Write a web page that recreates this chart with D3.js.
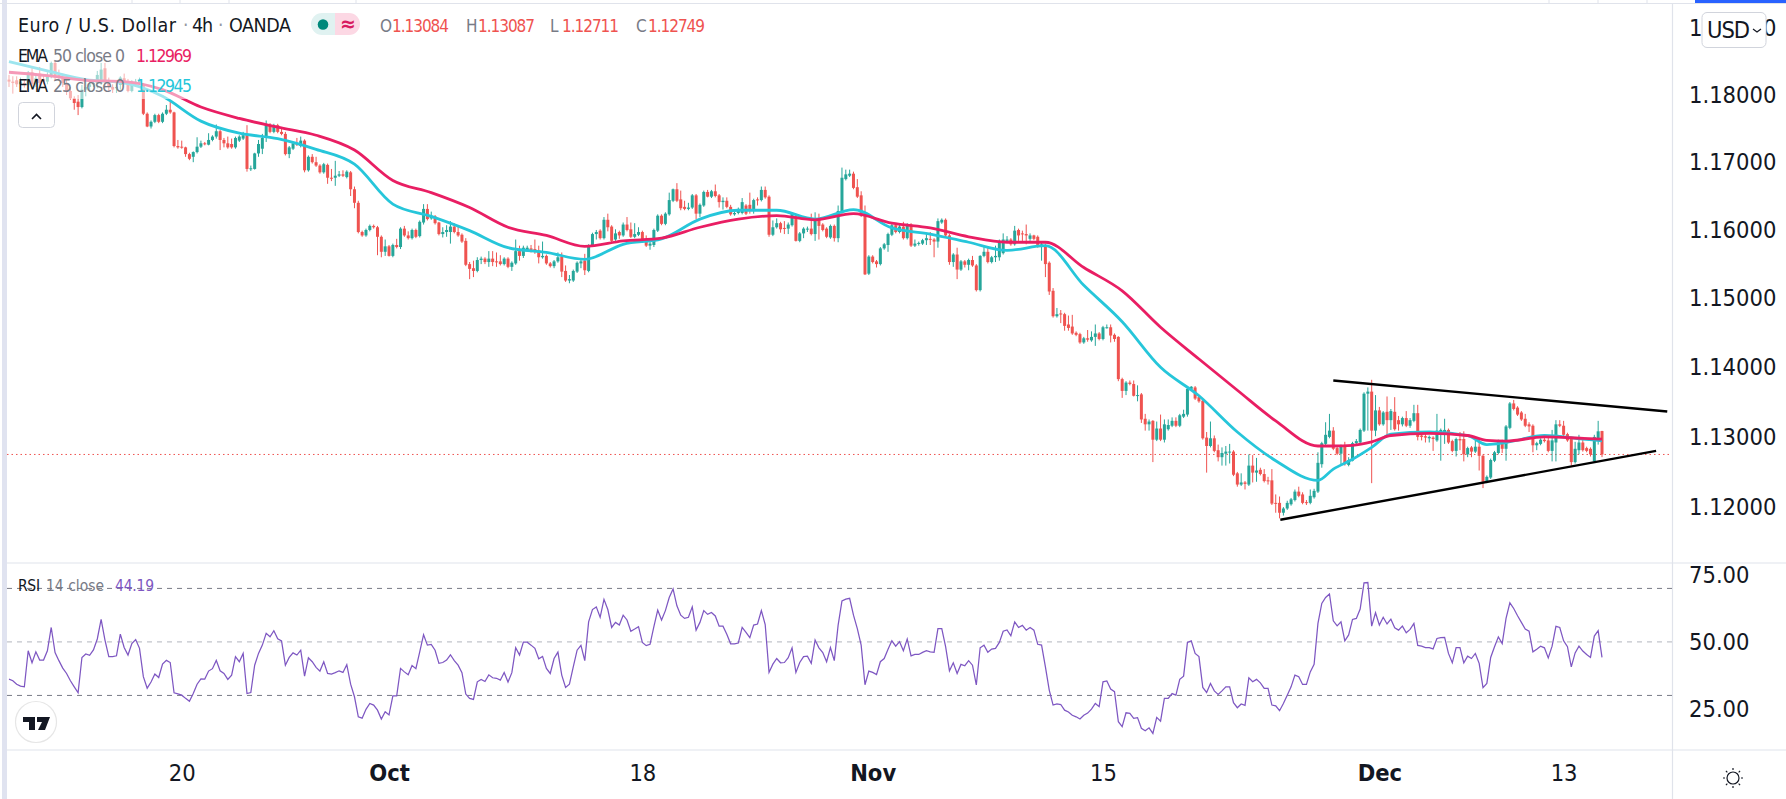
<!DOCTYPE html>
<html><head><meta charset="utf-8">
<script src="https://cdn.jsdelivr.net/npm/d3@7/dist/d3.min.js"></script>
<style>
html,body{margin:0;padding:0;background:#fff;overflow:hidden}
svg{display:block}
text{font-family:"DejaVu Sans Condensed","DejaVu Sans",sans-serif;font-stretch:condensed}
.tick text{fill:#131722}
</style></head><body><svg id="c" width="1786" height="799"></svg>
<script>
const opens=[
1.1823,1.1820,1.1822,1.1816,1.1818,1.1815,1.1834,1.1816,1.1832,1.1824,
1.1820,1.1828,1.1848,1.1830,1.1826,1.1818,1.1806,1.1795,1.1790,1.1782,
1.1808,1.1812,1.1816,1.1818,1.1820,1.1840,1.1822,1.1812,1.1810,1.1815,
1.1825,1.1820,1.1806,1.1820,1.1818,1.1816,1.1772,1.1753,1.1760,1.1770,
1.1760,1.1772,1.1778,1.1774,1.1724,1.1723,1.1722,1.1712,1.1708,1.1715,
1.1723,1.1728,1.1726,1.1733,1.1738,1.1746,1.1733,1.1728,1.1727,1.1722,
1.1732,1.1735,1.1740,1.1690,1.1690,1.1713,1.1720,1.1736,1.1755,1.1745,
1.1755,1.1745,1.1742,1.1712,1.1720,1.1728,1.1724,1.1732,1.1688,1.1708,
1.1700,1.1695,1.1685,1.1696,1.1677,1.1677,1.1680,1.1682,1.1678,1.1685,
1.1660,1.1640,1.1597,1.1592,1.1600,1.1606,1.1604,1.1590,1.1568,1.1576,
1.1562,1.1578,1.1575,1.1602,1.1592,1.1588,1.1600,1.1591,1.1611,1.1631,
1.1617,1.1620,1.1611,1.1594,1.1597,1.1597,1.1605,1.1597,1.1593,1.1584,
1.1550,1.1544,1.1540,1.1556,1.1558,1.1553,1.1558,1.1554,1.1554,1.1550,
1.1558,1.1546,1.1551,1.1569,1.1562,1.1570,1.1573,1.1572,1.1570,1.1560,
1.1562,1.1551,1.1547,1.1554,1.1561,1.1540,1.1526,1.1526,1.1539,1.1551,
1.1555,1.1540,1.1577,1.1594,1.1599,1.1588,1.1615,1.1605,1.1586,1.1597,
1.1592,1.1608,1.1601,1.1590,1.1593,1.1597,1.1586,1.1577,1.1578,1.1599,
1.1621,1.1609,1.1623,1.1643,1.1660,1.1645,1.1634,1.1631,1.1633,1.1651,
1.1624,1.1636,1.1656,1.1649,1.1657,1.1651,1.1641,1.1643,1.1634,1.1623,
1.1625,1.1625,1.1636,1.1637,1.1629,1.1645,1.1644,1.1659,1.1649,1.1593,
1.1604,1.1610,1.1603,1.1602,1.1607,1.1620,1.1584,1.1595,1.1602,1.1602,
1.1594,1.1616,1.1608,1.1602,1.1589,1.1606,1.1588,1.1626,1.1675,1.1680,
1.1683,1.1663,1.1651,1.1624,1.1536,1.1561,1.1554,1.1550,1.1573,1.1578,
1.1593,1.1607,1.1597,1.1605,1.1588,1.1608,1.1577,1.1580,1.1580,1.1585,
1.1587,1.1586,1.1583,1.1611,1.1615,1.1592,1.1553,1.1564,1.1542,1.1554,
1.1549,1.1556,1.1548,1.1512,1.1562,1.1568,1.1553,1.1560,1.1560,1.1566,
1.1584,1.1586,1.1579,1.1600,1.1595,1.1594,1.1587,1.1592,1.1590,1.1577,
1.1577,1.1552,1.1511,1.1474,1.1478,1.1477,1.1462,1.1459,1.1450,1.1448,
1.1436,1.1442,1.1439,1.1444,1.1449,1.1441,1.1458,1.1458,1.1447,1.1444,
1.1383,1.1366,1.1378,1.1376,1.1359,1.1361,1.1326,1.1318,1.1323,1.1296,
1.1312,1.1296,1.1311,1.1316,1.1323,1.1316,1.1329,1.1332,1.1369,1.1371,
1.1357,1.1352,1.1299,1.1287,1.1298,1.1281,1.1271,1.1276,1.1279,1.1279,
1.1248,1.1232,1.1235,1.1232,1.1259,1.1249,1.1253,1.1247,1.1238,1.1238,
1.1206,1.1206,1.1192,1.1198,1.1204,1.1210,1.1222,1.1218,1.1207,1.1206,
1.1214,1.1222,1.1261,1.1290,1.1300,1.1309,1.1284,1.1276,1.1288,1.1260,
1.1266,1.1291,1.1292,1.1309,1.1362,1.1365,1.1309,1.1338,1.1318,1.1336,
1.1324,1.1336,1.1324,1.1318,1.1327,1.1316,1.1323,1.1334,1.1302,1.1301,
1.1298,1.1299,1.1295,1.1307,1.1307,1.1310,1.1294,1.1280,1.1297,1.1297,
1.1275,1.1285,1.1279,1.1286,1.1273,1.1236,1.1242,1.1266,1.1277,1.1294,
1.1283,1.1313,1.1348,1.1342,1.1335,1.1326,1.1318,1.1316,1.1288,1.1290,
1.1296,1.1295,1.1280,1.1292,1.1318,1.1316,1.1304,1.1297,1.1264,1.1281,1.1292,1.1284,1.1283,1.1265,1.1297,1.13084];
const closes=[
1.1820,1.1818,1.1816,1.1820,1.1815,1.1834,1.1816,1.1825,1.1818,1.1820,
1.1828,1.1848,1.1827,1.1826,1.1818,1.1806,1.1795,1.1788,1.1782,1.1808,
1.1812,1.1816,1.1818,1.1830,1.1838,1.1820,1.1812,1.1808,1.1812,1.1826,
1.1820,1.1806,1.1820,1.1820,1.1822,1.1772,1.1753,1.1760,1.1770,1.1760,
1.1772,1.1778,1.1774,1.1724,1.1722,1.1722,1.1712,1.1705,1.1715,1.1723,
1.1728,1.1727,1.1733,1.1738,1.1746,1.1733,1.1728,1.1722,1.1722,1.1736,
1.1738,1.1740,1.1690,1.1691,1.1713,1.1727,1.1736,1.1755,1.1745,1.1755,
1.1745,1.1742,1.1712,1.1722,1.1728,1.1726,1.1732,1.1688,1.1708,1.1700,
1.1695,1.1685,1.1697,1.1677,1.1676,1.1680,1.1682,1.1680,1.1686,1.1660,
1.1640,1.1597,1.1592,1.1600,1.1606,1.1604,1.1590,1.1568,1.1576,1.1562,
1.1578,1.1575,1.1602,1.1592,1.1588,1.1600,1.1590,1.1612,1.1631,1.1616,
1.1621,1.1610,1.1594,1.1597,1.1600,1.1605,1.1597,1.1592,1.1583,1.1549,
1.1543,1.1540,1.1556,1.1558,1.1553,1.1558,1.1553,1.1553,1.1550,1.1558,
1.1546,1.1552,1.1569,1.1562,1.1574,1.1574,1.1569,1.1568,1.1560,1.1562,
1.1551,1.1547,1.1554,1.1560,1.1539,1.1526,1.1528,1.1540,1.1552,1.1554,
1.1541,1.1577,1.1594,1.1597,1.1588,1.1615,1.1604,1.1584,1.1595,1.1592,
1.1608,1.1600,1.1590,1.1594,1.1597,1.1583,1.1577,1.1580,1.1600,1.1621,
1.1609,1.1624,1.1644,1.1660,1.1643,1.1632,1.1631,1.1633,1.1651,1.1624,
1.1637,1.1656,1.1649,1.1657,1.1650,1.1641,1.1643,1.1634,1.1623,1.1625,
1.1631,1.1641,1.1624,1.1628,1.1644,1.1644,1.1659,1.1648,1.1593,1.1604,
1.1610,1.1601,1.1602,1.1608,1.1624,1.1584,1.1595,1.1602,1.1602,1.1594,
1.1616,1.1606,1.1600,1.1590,1.1606,1.1588,1.1628,1.1677,1.1682,1.1683,
1.1662,1.1649,1.1621,1.1535,1.1561,1.1553,1.1550,1.1573,1.1579,1.1594,
1.1607,1.1597,1.1605,1.1588,1.1608,1.1577,1.1580,1.1581,1.1585,1.1588,
1.1586,1.1583,1.1613,1.1615,1.1592,1.1553,1.1564,1.1542,1.1554,1.1549,
1.1556,1.1548,1.1512,1.1562,1.1568,1.1553,1.1560,1.1562,1.1584,1.1586,
1.1586,1.1579,1.1599,1.1592,1.1594,1.1592,1.1592,1.1587,1.1576,1.1579,
1.1550,1.1510,1.1474,1.1477,1.1477,1.1460,1.1457,1.1449,1.1447,1.1436,
1.1442,1.1440,1.1444,1.1449,1.1441,1.1458,1.1458,1.1446,1.1441,1.1383,
1.1366,1.1378,1.1376,1.1359,1.1360,1.1325,1.1318,1.1322,1.1296,1.1312,
1.1296,1.1318,1.1317,1.1323,1.1316,1.1331,1.1333,1.1369,1.1372,1.1355,
1.1351,1.1298,1.1287,1.1298,1.1280,1.1271,1.1277,1.1279,1.1279,1.1246,
1.1232,1.1235,1.1233,1.1259,1.1249,1.1252,1.1247,1.1237,1.1237,1.1205,
1.1205,1.1192,1.1198,1.1206,1.1211,1.1222,1.1216,1.1206,1.1206,1.1216,
1.1223,1.1263,1.1291,1.1303,1.1309,1.1283,1.1276,1.1288,1.1261,1.1267,
1.1291,1.1294,1.1310,1.1362,1.1365,1.1309,1.1338,1.1318,1.1335,1.1324,
1.1337,1.1311,1.1318,1.1327,1.1316,1.1324,1.1334,1.1300,1.1300,1.1299,
1.1300,1.1297,1.1309,1.1310,1.1310,1.1292,1.1280,1.1297,1.1295,1.1275,
1.1284,1.1279,1.1286,1.1273,1.1236,1.1243,1.1267,1.1278,1.1294,1.1283,
1.1315,1.1348,1.1340,1.1332,1.1325,1.1316,1.1315,1.1288,1.1291,1.1296,
1.1294,1.1280,1.1295,1.1318,1.1316,1.1303,1.1295,1.1264,1.1283,1.1292,1.1281,1.1280,1.1275,1.1300,1.1308,1.12749];
const highs=[
1.1830,1.1828,1.1828,1.1826,1.1823,1.1836,1.1842,1.1830,1.1842,1.1830,
1.1834,1.1850,1.1850,1.1838,1.1832,1.1824,1.1812,1.1798,1.1800,1.1815,
1.1820,1.1822,1.1822,1.1836,1.1848,1.1848,1.1826,1.1816,1.1816,1.1828,
1.1832,1.1824,1.1822,1.1824,1.1826,1.1818,1.1774,1.1762,1.1772,1.1772,
1.1774,1.1785,1.1790,1.1775,1.1733,1.1732,1.1723,1.1714,1.1716,1.1737,
1.1732,1.1730,1.1743,1.1740,1.1756,1.1748,1.1736,1.1738,1.1735,1.1738,
1.1740,1.1745,1.1755,1.1695,1.1714,1.1733,1.1742,1.1762,1.1758,1.1757,
1.1757,1.1752,1.1745,1.1724,1.1730,1.1736,1.1738,1.1734,1.1710,1.1712,
1.1708,1.1697,1.1699,1.1698,1.1690,1.1702,1.1687,1.1688,1.1688,1.1687,
1.1664,1.1643,1.1599,1.1602,1.1608,1.1608,1.1606,1.1592,1.1586,1.1578,
1.1580,1.1587,1.1604,1.1606,1.1598,1.1602,1.1602,1.1614,1.1638,1.1638,
1.1627,1.1622,1.1612,1.1604,1.1607,1.1613,1.1610,1.1605,1.1595,1.1588,
1.1553,1.1555,1.1560,1.1561,1.1560,1.1569,1.1569,1.1567,1.1563,1.1560,
1.1560,1.1554,1.1586,1.1577,1.1577,1.1577,1.1578,1.1586,1.1577,1.1583,
1.1564,1.1553,1.1556,1.1567,1.1567,1.1548,1.1534,1.1542,1.1554,1.1558,
1.1565,1.1579,1.1596,1.1600,1.1601,1.1619,1.1624,1.1607,1.1601,1.1599,
1.1611,1.1619,1.1611,1.1610,1.1604,1.1599,1.1592,1.1588,1.1602,1.1623,
1.1623,1.1626,1.1655,1.1661,1.1669,1.1658,1.1643,1.1640,1.1653,1.1653,
1.1639,1.1658,1.1659,1.1659,1.1667,1.1653,1.1648,1.1648,1.1637,1.1630,
1.1633,1.1647,1.1638,1.1655,1.1646,1.1648,1.1664,1.1664,1.1651,1.1614,
1.1617,1.1612,1.1613,1.1611,1.1626,1.1622,1.1597,1.1604,1.1605,1.1624,
1.1626,1.1624,1.1610,1.1604,1.1608,1.1608,1.1636,1.1692,1.1689,1.1689,
1.1686,1.1675,1.1657,1.1636,1.1563,1.1563,1.1556,1.1575,1.1581,1.1596,
1.1610,1.1609,1.1610,1.1612,1.1610,1.1610,1.1586,1.1583,1.1587,1.1594,
1.1597,1.1588,1.1617,1.1617,1.1617,1.1594,1.1566,1.1574,1.1556,1.1556,
1.1558,1.1562,1.1550,1.1563,1.1575,1.1575,1.1562,1.1577,1.1586,1.1595,
1.1591,1.1588,1.1606,1.1602,1.1599,1.1608,1.1595,1.1593,1.1592,1.1583,
1.1580,1.1554,1.1515,1.1486,1.1483,1.1479,1.1475,1.1476,1.1452,1.1450,
1.1444,1.1454,1.1452,1.1462,1.1451,1.1460,1.1462,1.1462,1.1449,1.1445,
1.1385,1.1380,1.1381,1.1381,1.1374,1.1363,1.1333,1.1325,1.1324,1.1322,
1.1332,1.1325,1.1325,1.1328,1.1328,1.1333,1.1339,1.1371,1.1373,1.1373,
1.1359,1.1354,1.1307,1.1322,1.1302,1.1289,1.1285,1.1287,1.1290,1.1281,
1.1250,1.1248,1.1237,1.1275,1.1274,1.1270,1.1256,1.1254,1.1243,1.1254,
1.1218,1.1215,1.1200,1.1209,1.1213,1.1225,1.1229,1.1221,1.1210,1.1225,
1.1226,1.1278,1.1293,1.1321,1.1333,1.1314,1.1286,1.1289,1.1293,1.1271,
1.1293,1.1297,1.1312,1.1364,1.1371,1.1382,1.1360,1.1343,1.1337,1.1358,
1.1340,1.1357,1.1330,1.1329,1.1337,1.1327,1.1346,1.1346,1.1307,1.1304,
1.1302,1.1301,1.1333,1.1312,1.1326,1.1312,1.1296,1.1299,1.1307,1.1308,
1.1286,1.1287,1.1295,1.1297,1.1275,1.1245,1.1269,1.1280,1.1296,1.1296,
1.1317,1.1350,1.1353,1.1344,1.1337,1.1333,1.1321,1.1318,1.1293,1.1298,
1.1301,1.1300,1.1310,1.1324,1.1324,1.1323,1.1306,1.1299,1.1293,1.1303,1.1300,1.1286,1.1285,1.1303,1.1323,1.13087];
const lows=[
1.1812,1.1802,1.1812,1.1810,1.1811,1.1808,1.1812,1.1812,1.1812,1.1816,
1.1816,1.1825,1.1822,1.1822,1.1812,1.1800,1.1793,1.1778,1.1770,1.1780,
1.1798,1.1805,1.1812,1.1810,1.1815,1.1810,1.1806,1.1803,1.1803,1.1808,
1.1816,1.1804,1.1804,1.1814,1.1815,1.1770,1.1752,1.1750,1.1758,1.1758,
1.1758,1.1770,1.1772,1.1722,1.1720,1.1720,1.1708,1.1703,1.1700,1.1713,
1.1721,1.1725,1.1725,1.1731,1.1735,1.1718,1.1722,1.1720,1.1720,1.1720,
1.1730,1.1733,1.1686,1.1687,1.1689,1.1708,1.1712,1.1730,1.1743,1.1743,
1.1743,1.1740,1.1710,1.1706,1.1718,1.1724,1.1722,1.1685,1.1686,1.1698,
1.1693,1.1683,1.1683,1.1668,1.1672,1.1665,1.1678,1.1678,1.1676,1.1650,
1.1632,1.1595,1.1590,1.1590,1.1598,1.1602,1.1563,1.1560,1.1562,1.1561,
1.1560,1.1573,1.1572,1.1590,1.1586,1.1586,1.1588,1.1589,1.1608,1.1614,
1.1615,1.1608,1.1592,1.1589,1.1590,1.1580,1.1595,1.1590,1.1581,1.1547,
1.1528,1.1531,1.1538,1.1550,1.1550,1.1546,1.1547,1.1546,1.1548,1.1548,
1.1544,1.1540,1.1549,1.1555,1.1559,1.1568,1.1567,1.1565,1.1551,1.1558,
1.1549,1.1545,1.1544,1.1552,1.1531,1.1524,1.1522,1.1524,1.1537,1.1544,
1.1534,1.1538,1.1575,1.1586,1.1586,1.1586,1.1598,1.1582,1.1584,1.1587,
1.1590,1.1598,1.1588,1.1588,1.1591,1.1582,1.1575,1.1571,1.1575,1.1597,
1.1607,1.1607,1.1621,1.1641,1.1641,1.1629,1.1629,1.1629,1.1631,1.1616,
1.1619,1.1634,1.1648,1.1647,1.1648,1.1633,1.1630,1.1632,1.1621,1.1621,
1.1623,1.1623,1.1622,1.1624,1.1624,1.1636,1.1642,1.1646,1.1590,1.1591,
1.1602,1.1596,1.1594,1.1594,1.1605,1.1583,1.1582,1.1588,1.1597,1.1592,
1.1584,1.1586,1.1598,1.1588,1.1587,1.1583,1.1582,1.1624,1.1673,1.1678,
1.1660,1.1647,1.1619,1.1534,1.1534,1.1551,1.1545,1.1548,1.1571,1.1568,
1.1591,1.1595,1.1595,1.1586,1.1586,1.1575,1.1575,1.1577,1.1578,1.1578,
1.1578,1.1560,1.1574,1.1609,1.1590,1.1549,1.1546,1.1528,1.1540,1.1545,
1.1541,1.1546,1.1510,1.1510,1.1560,1.1551,1.1551,1.1553,1.1555,1.1564,
1.1581,1.1577,1.1577,1.1584,1.1584,1.1579,1.1584,1.1585,1.1574,1.1555,
1.1531,1.1505,1.1472,1.1472,1.1464,1.1453,1.1453,1.1447,1.1445,1.1434,
1.1434,1.1437,1.1437,1.1431,1.1439,1.1439,1.1456,1.1436,1.1437,1.1380,
1.1356,1.1360,1.1374,1.1358,1.1351,1.1320,1.1309,1.1309,1.1264,1.1294,
1.1294,1.1292,1.1309,1.1314,1.1314,1.1314,1.1327,1.1329,1.1367,1.1353,
1.1349,1.1296,1.1249,1.1285,1.1278,1.1265,1.1259,1.1259,1.1262,1.1244,
1.1229,1.1230,1.1225,1.1230,1.1235,1.1236,1.1245,1.1235,1.1232,1.1203,
1.1192,1.1184,1.1188,1.1196,1.1202,1.1208,1.1214,1.1204,1.1203,1.1204,
1.1212,1.1220,1.1256,1.1288,1.1298,1.1281,1.1274,1.1261,1.1259,1.1258,
1.1265,1.1289,1.1290,1.1307,1.1309,1.1234,1.1301,1.1316,1.1316,1.1302,
1.1310,1.1309,1.1309,1.1315,1.1314,1.1313,1.1321,1.1295,1.1295,1.1292,
1.1292,1.1280,1.1293,1.1266,1.1290,1.1290,1.1278,1.1272,1.1281,1.1265,
1.1271,1.1271,1.1277,1.1252,1.1227,1.1234,1.1240,1.1264,1.1275,1.1277,
1.1266,1.1311,1.1338,1.1330,1.1323,1.1314,1.1307,1.1278,1.1281,1.1288,
1.1292,1.1278,1.1265,1.1265,1.1314,1.1300,1.1293,1.1259,1.1262,1.1275,1.1279,1.1278,1.1272,1.1263,1.1289,1.12711];
const rsiValues=[
36.1,35.5,34.2,33.5,33.2,46.7,42.2,46.3,43.2,43.2,46.7,55.4,46,43,40.2,38.2,35.5,33.2,31,44.2,
45.5,45,47,51.1,58.4,50.7,44.5,44.5,44.8,52.9,47.9,45.1,49.4,50.9,47.6,37,32.7,35,38,36.7,
41.7,43.1,42.3,31,30.6,30.1,28.9,27.8,30.7,34.2,36.2,36.1,39.1,40,43.1,39.2,38.2,36,37.6,44.5,
42.6,45.7,30.7,31.1,41.3,45.7,48.8,53.2,51.9,54.2,51.2,50.4,41.3,44.2,45.9,45.1,46.9,37.2,44.1,42.6,
40.5,39.1,42.6,38.2,38,38.5,39.2,38.6,41.5,34.2,29.5,22,21.5,24.8,27,26.4,24.5,21.2,23.9,22.7,
29.8,29.8,40.1,38.8,37.7,41.2,40,46.3,52.7,48.8,49.1,46.9,42,42.3,43.2,45.2,43,41.3,38.5,30.5,
28.9,28.5,35.1,36,35.2,37.7,36.6,36.4,35.7,38.6,35,38.5,47.8,45.1,49.9,49.9,48.8,47.6,43.7,44.6,
40.1,38.2,43.8,46.2,37.6,33,34.2,40.7,46.9,48.7,43,57.5,62.1,63.1,59.2,65.9,62.1,55.4,57.3,56.3,
60,58.2,54,54.8,55.7,49.8,48.6,49.1,55.7,61.9,58.2,61.7,66.6,69.8,63.5,60,58.8,59.2,63.1,54.4,
57.3,61.7,60.3,61,59.7,55.9,55.9,52.9,49.3,49.3,49.6,55.4,53.6,51.6,56.3,56.7,61.7,56.5,38.6,41.7,
43.8,42.2,42.3,44.1,47.8,38.6,42.3,44.5,44.7,42,50.7,47.8,46,42.6,47.9,43,56.3,65.3,66,66.3,
60,55,48.8,34,39.1,38.6,37.8,42.6,43.8,47.3,50.4,48.4,50.1,46.7,51.1,44.8,45.3,45.3,46.1,46.7,
46.3,46.1,55,55,48.2,39.2,42.2,38.2,41.6,41.1,43,41.3,33.9,47.8,48.8,46.1,47.3,47.6,49.8,54,
54.5,52.3,57.5,55.4,56.2,54.4,55.4,54.4,49.1,48.8,40.7,32,26.4,26.8,26.6,24.5,23.8,22.6,22,21.2,
22.6,23.4,24.9,27,25.8,35.1,35.4,32.4,31.4,20.2,18.3,23.5,23.3,21.4,21.7,17.7,16.8,17.9,15.8,21.8,
20.4,28.9,28.9,30.7,30.1,36,37.2,49.8,50.4,45.7,44.5,33,31.1,34.5,31.7,30.4,31.7,33.2,33.2,27.3,
25.4,26.8,26.3,36.6,35.1,36,34.7,32.6,32.6,26.4,26.1,24.3,27,30.1,33.2,37.6,37,34.1,34.1,38.8,
41.6,56.9,64.4,66.6,67.9,57.9,56,57.5,50.4,52.6,58.4,58.8,62.3,72.1,72.2,55.9,60.9,56.3,59.2,56.7,
58.5,55.3,54.4,55.9,53.4,54.7,56.9,48.7,48.4,47.9,47.9,47.4,51.3,51.6,51.7,45.7,42.2,47.9,47.9,42.2,
44.7,43.8,45.7,42,32.9,34.5,44.2,48.2,51.9,49.4,58.8,64.6,62.5,59.8,57.3,54.8,54,46.3,47.3,48.4,
47.8,44,48.4,55.8,55.4,50.4,48.2,40.7,45.9,48.4,46.6,45.3,44.2,52.2,54.2,44.19];
const emaIdx=[0,10,20,30,40,50,60,70,80,90,100,110,120,130,140,150,160,170,180,190,200,210,220,230,240,250,260,270,280,290,300,310,320,330,341,345,350,355,360,370,380,385,390,400,410,415];
const ema25=[1.1850,1.1836,1.1823,1.1818,1.1798,1.1761,1.1743,1.1735,1.1719,1.1697,1.1638,1.1620,1.1599,1.1574,1.1567,1.1557,1.1579,1.1587,1.1616,1.1629,1.1629,1.1616,1.1630,1.1603,1.1594,1.1582,1.1570,1.1577,1.1519,1.1466,1.1400,1.1359,1.1307,1.1266,1.1238,1.1254,1.1268,1.1285,1.1304,1.1307,1.1302,1.1289,1.1292,1.1302,1.1297,1.12945];
const ema50=[1.1834,1.1829,1.1822,1.1820,1.1808,1.1782,1.1765,1.1752,1.1740,1.1718,1.1673,1.1655,1.1633,1.1604,1.1592,1.1576,1.1584,1.1588,1.1604,1.1616,1.1621,1.1615,1.1624,1.1610,1.1603,1.1590,1.1582,1.1582,1.1545,1.1511,1.1458,1.1412,1.1367,1.1323,1.1287,1.1287,1.1288,1.1293,1.1302,1.1305,1.1302,1.1295,1.1294,1.1300,1.1298,1.12969];
const upperTrendIdx=[345,432], upperTrend=[1.1381,1.13364];
const lowerTrendIdx=[331.2,429.1], lowerTrend=[1.1182,1.1280];
const lastClose=1.12749;
const priceTicks=[1.19,1.18,1.17,1.16,1.15,1.14,1.13,1.12];
const rsiTicks=[25,50,75];
const rsiBands=[70,50,30];
const timeIdx=[45,99,165,225,285,357,405];
const timeLabels=["20","Oct","18","Nov","15","Dec","13"];
const boldLabels=["Oct","Nov","Dec"];
const ohlcNames=["O","H","L","C"];
const ohlcText=["1.13084","1.13087","1.12711","1.12749"];

const UP="#26a69a",DN="#ef5350",GRID="#e0e3eb";
const svg=d3.select("#c");
const x=d3.scaleLinear().domain([0,opens.length-1]).range([9,1602]);
const y=d3.scaleLog().domain([1.1121,1.19375]).range([563,3.5]);
const yR=d3.scaleLinear().domain([9.6,79.5]).range([750,563]);

svg.append("rect").attr("width",1786).attr("height",799).attr("fill","#fff");

// frame
svg.append("rect").attr("x",2).attr("y",0).attr("width",5).attr("height",799).attr("fill","#e0e3f0");
const frame=[[0,3.5,1786,3.5],[7,563,1786,563],[7,750,1786,750],[1672.5,3.5,1672.5,799]];
svg.selectAll(".fr").data(frame).join("line").attr("x1",d=>d[0]).attr("y1",d=>d[1]).attr("x2",d=>d[2]).attr("y2",d=>d[3]).attr("stroke",GRID).attr("stroke-width",1.2);
svg.selectAll(".tb").data([132,180,229,356,1549,1598,1647]).join("line").attr("x1",d=>d).attr("x2",d=>d).attr("y1",0).attr("y2",3).attr("stroke",GRID);
svg.append("rect").attr("x",1695).attr("y",0).attr("width",91).attr("height",3).attr("fill","#2962ff");

// last price
svg.append("line").attr("x1",7).attr("x2",1672).attr("y1",y(lastClose)).attr("y2",y(lastClose)).attr("stroke",DN).attr("stroke-width",1).attr("stroke-dasharray","1.5 3");

// candles
const bars=d3.range(opens.length);
const cg=svg.append("g");
cg.selectAll(".w").data(bars).join("line").attr("x1",i=>x(i)).attr("x2",i=>x(i)).attr("y1",i=>y(highs[i])).attr("y2",i=>y(lows[i])).attr("stroke",i=>closes[i]>=opens[i]?UP:DN).attr("stroke-width",1);
cg.selectAll(".b").data(bars).join("rect").attr("x",i=>x(i)-1.5).attr("width",3).attr("y",i=>y(Math.max(opens[i],closes[i]))).attr("height",i=>Math.max(1,Math.abs(y(opens[i])-y(closes[i])))).attr("fill",i=>closes[i]>=opens[i]?UP:DN);

// EMA
const emaLine=s=>d3.line().x((d,k)=>x(emaIdx[k])).y(d=>y(d)).curve(d3.curveMonotoneX)(s);
svg.append("path").attr("d",emaLine(ema25)).attr("fill","none").attr("stroke","#26c6da").attr("stroke-width",2.8);
svg.append("path").attr("d",emaLine(ema50)).attr("fill","none").attr("stroke","#e91e63").attr("stroke-width",2.8);

// trend lines
const tl=(ix,v)=>svg.append("line").attr("x1",x(ix[0])).attr("x2",x(ix[1])).attr("y1",y(v[0])).attr("y2",y(v[1])).attr("stroke","#000").attr("stroke-width",2.4);
tl(upperTrendIdx,upperTrend); tl(lowerTrendIdx,lowerTrend);

// RSI
svg.selectAll(".band").data(rsiBands).join("line").attr("x1",7).attr("x2",1672).attr("y1",d=>yR(d)).attr("y2",d=>yR(d)).attr("stroke",d=>d===50?"#b2b5be":"#787b86").attr("stroke-width",1).attr("stroke-dasharray","5 5");
svg.append("path").attr("d",d3.line().x((d,i)=>x(i)).y(d=>yR(d))(rsiValues)).attr("fill","none").attr("stroke","#7e57c2").attr("stroke-width",1.25);

// axes
const fs=23.5;
const styleAxis=g=>{g.select(".domain").remove();g.selectAll(".tick line").remove();g.selectAll("text").attr("font-size",fs).style("font-family",'"DejaVu Sans Condensed","DejaVu Sans",sans-serif').attr("fill","#131722");};
svg.append("g").attr("transform","translate(1672,0)").call(d3.axisRight(y).tickValues(priceTicks).tickFormat(d3.format(".5f")).tickSize(0).tickPadding(17)).call(styleAxis);
svg.append("g").attr("transform","translate(1672,0)").call(d3.axisRight(yR).tickValues(rsiTicks).tickFormat(d3.format(".2f")).tickSize(0).tickPadding(17)).call(styleAxis);
svg.append("g").attr("transform","translate(0,750)").call(d3.axisBottom(x).tickValues(timeIdx).tickFormat((d,i)=>timeLabels[i]).tickSize(0).tickPadding(14)).call(styleAxis)
 .selectAll("text").attr("font-weight",(d,i)=>boldLabels.includes(timeLabels[i])?"bold":"normal");

// legend veil
svg.append("rect").attr("x",7).attr("y",58).attr("width",185).attr("height",41).attr("fill","#fff").attr("fill-opacity",.55);

const T=(t,xx,yy,size,fill,len,extra)=>{const e=svg.append("text").attr("x",xx).attr("y",yy).attr("font-size",size).attr("fill",fill).attr("dominant-baseline","alphabetic").text(t);if(len)e.attr("textLength",len).attr("lengthAdjust","spacing");if(extra)extra(e);return e;};
T("Euro / U.S. Dollar",18,32,19.5,"#131722",158);
T("·",183,32,19,"#9598a1");
T("4h",192,32,19.5,"#131722",21);
T("·",218,32,19,"#9598a1");
T("OANDA",229,32,19.5,"#131722",62);
// badge
svg.append("path").attr("d","M335 13H322a11 11 0 0 0 0 22H335Z").attr("fill","#e0f2f1");
svg.append("path").attr("d","M335 13H349a11 11 0 0 1 0 22H335Z").attr("fill","#fcd8e4");
svg.append("circle").attr("cx",323).attr("cy",24.5).attr("r",5.3).attr("fill","#00897b");
T("≈",340,31,21,"#d81b60",null,e=>e.attr("font-weight","bold"));
// OHLC
const ohlcX=[380,466,550,636];
ohlcNames.forEach((n,i)=>{T(n,ohlcX[i],32,17,"#787b86");T(ohlcText[i],ohlcX[i]+12,32,17,DN,57);});

// EMA legends
T("EMA",18,62,17.5,"#131722",30);
T("50 close 0",53,62,17.5,"#787b86",72);
T("1.12969",136,62,17.5,"#e91e63",56);
T("EMA",18,92,17.5,"#131722",30);
T("25 close 0",53,92,17.5,"#787b86",72);
T("1.12945",136,92,17.5,"#26c6da",56);
svg.append("rect").attr("x",18.5).attr("y",102.5).attr("width",36).attr("height",25).attr("rx",4).attr("fill","#fff").attr("stroke","#d1d4dc");
svg.append("path").attr("d","M32 119L36.5 114.5L41 119").attr("fill","none").attr("stroke","#131722").attr("stroke-width",1.6);

// USD button
svg.append("rect").attr("x",1702).attr("y",12.5).attr("width",64).attr("height",35).attr("rx",5).attr("fill","#fff").attr("stroke","#d1d4dc");
T("USD",1707,38,23.5,"#131722",43);
svg.append("path").attr("d","M1753 29L1757 32L1761 29").attr("fill","none").attr("stroke","#131722").attr("stroke-width",1.2);

// RSI legend
T("RSI",18,591,15.5,"#131722",22);
T("14 close",46,591,15.5,"#787b86",58);
T("44.19",115,591,15.5,"#7e57c2",39);

// TV logo
svg.append("circle").attr("cx",36).attr("cy",722).attr("r",20.5).attr("fill","#fff").attr("stroke","#e6e6e6").attr("stroke-width",1.2);
svg.append("path").attr("d","M23 717H35V730H29V722H23Z M37 717H50L45 730H38L42 722H37Z").attr("fill","#131722");

// sun
const sun=svg.append("g").attr("transform","translate(1733,778)").attr("stroke","#131722").attr("fill","none").attr("stroke-width",1.2);
sun.append("circle").attr("r",6);
d3.range(8).forEach(k=>{const a=k*Math.PI/4;sun.append("line").attr("x1",8*Math.cos(a)).attr("y1",8*Math.sin(a)).attr("x2",10*Math.cos(a)).attr("y2",10*Math.sin(a));});
</script></body></html>
